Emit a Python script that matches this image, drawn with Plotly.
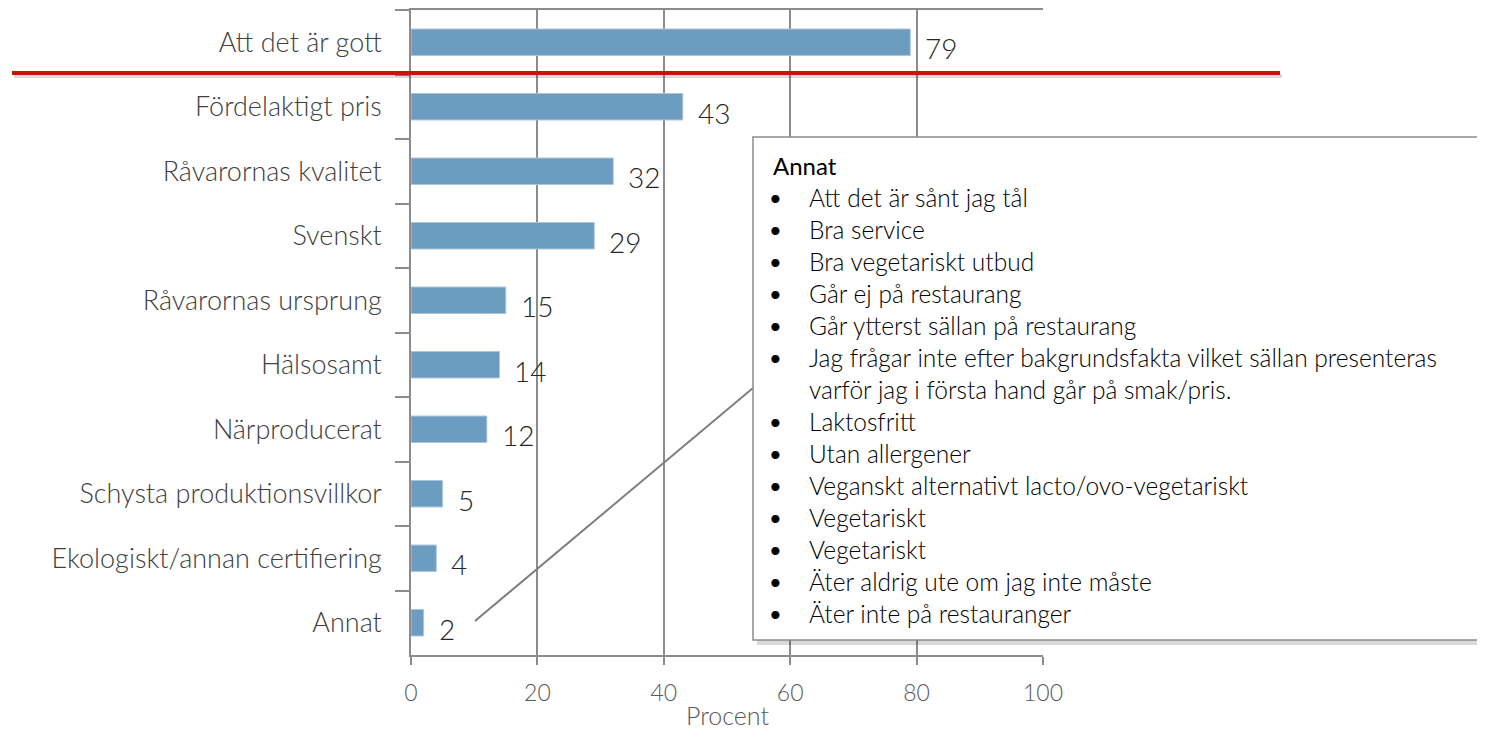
import plotly.graph_objects as go

categories = ["Att det är gott", "Fördelaktigt pris", "Råvarornas kvalitet", "Svenskt",
              "Råvarornas ursprung", "Hälsosamt", "Närproducerat",
              "Schysta produktionsvillkor", "Ekologiskt/annan certifiering", "Annat"]
values = [79, 43, 32, 29, 15, 14, 12, 5, 4, 2]
x_ticks = [0, 20, 40, 60, 80, 100]
x_title = "Procent"
callout_title = "Annat"
callout_items = [
    "Att det är sånt jag tål",
    "Bra service",
    "Bra vegetariskt utbud",
    "Går ej på restaurang",
    "Går ytterst sällan på restaurang",
    "Jag frågar inte efter bakgrundsfakta vilket sällan presenteras\nvarför jag i första hand går på smak/pris.",
    "Laktosfritt",
    "Utan allergener",
    "Veganskt alternativt lacto/ovo-vegetariskt",
    "Vegetariskt",
    "Vegetariskt",
    "Äter aldrig ute om jag inte måste",
    "Äter inte på restauranger",
]

# page body has an 8px margin, so the figure is drawn 8px in from the window edge
W, H = 1469, 722
FONT = "Lato"
fig = go.Figure()
fig.add_trace(go.Bar(
    x=values, y=categories, orientation="h", width=0.41,
    marker=dict(color="#6C9CC0", line=dict(color="#A9C6DC", width=1)),
    hoverinfo="skip",
))

for c, v in zip(categories, values):
    fig.add_annotation(x=v, y=c, text=str(v), showarrow=False, xanchor="left",
                       xshift=13, yshift=-6,
                       font=dict(family=FONT, size=28, color="#262626", weight=300))

# convert reference-window pixel positions to paper coordinates of the plot area
def px(xp):
    return (xp - 411) / 632

def py(yp):
    return (655 - yp) / 645

shapes = []
# red line with shadow
shapes.append(dict(type="line", xref="paper", yref="paper", x0=px(14), x1=px(1282),
                   y0=py(76), y1=py(76), line=dict(color="rgba(0,0,0,0.15)", width=4)))
shapes.append(dict(type="line", xref="paper", yref="paper", x0=px(12), x1=px(1280),
                   y0=py(73), y1=py(73), line=dict(color="#C0180C", width=4)))
# connector
shapes.append(dict(type="line", xref="paper", yref="paper", x0=px(475), y0=py(621),
                   x1=px(753), y1=py(388), line=dict(color="#7F7F7F", width=2)))
# callout shadow + box
shapes.append(dict(type="rect", xref="paper", yref="paper", x0=px(757), x1=px(1489),
                   y0=py(645), y1=py(141), line=dict(width=0), fillcolor="rgba(0,0,0,0.15)"))
shapes.append(dict(type="rect", xref="paper", yref="paper", x0=px(753), x1=px(1484),
                   y0=py(640), y1=py(137), line=dict(color="#8C8C8C", width=1.5),
                   fillcolor="white"))
fig.update_layout(shapes=shapes)

fig.add_annotation(xref="paper", yref="paper", x=px(771), y=py(165), text=callout_title,
                   showarrow=False, xanchor="left", yanchor="middle",
                   font=dict(family=FONT, size=24, color="#000000"))
line_y = 197
for item in callout_items:
    parts = item.split("\n")
    fig.add_annotation(xref="paper", yref="paper", x=px(767), y=py(line_y), text="•",
                       showarrow=False, xanchor="left", yanchor="middle",
                       font=dict(family=FONT, size=22, color="#000000"))
    for p in parts:
        fig.add_annotation(xref="paper", yref="paper", x=px(807), y=py(line_y), text=p,
                           showarrow=False, xanchor="left", yanchor="middle",
                           font=dict(family=FONT, size=24.5, color="#000000", weight=300))
        line_y += 32

# x-axis title as annotation, kept inside the figure's bottom edge
fig.add_annotation(xref="paper", yref="paper", x=0.5, y=py(715), text=x_title,
                   showarrow=False, xanchor="center", yanchor="middle",
                   font=dict(family=FONT, size=25, color="#595959", weight=300))

fig.update_xaxes(range=[0, 100], tickvals=x_ticks, showgrid=True, gridcolor="#8C8C8C",
                 gridwidth=1.5, showline=True, linecolor="#8C8C8C", linewidth=1.5,
                 mirror=True, ticks="outside", ticklen=8, tickcolor="#8C8C8C", tickwidth=1.5,
                 ticklabelstandoff=9, zeroline=False, automargin=False,
                 tickfont=dict(family=FONT, size=23, color="#595959", weight=300))
fig.update_yaxes(autorange="reversed", showline=True, linecolor="#8C8C8C", linewidth=1.5,
                 ticks="outside", tickson="boundaries", ticklen=14, tickcolor="#8C8C8C",
                 tickwidth=1.5, ticklabelstandoff=22, showgrid=False, automargin=False,
                 tickfont=dict(family=FONT, size=27, color="#404040", weight=300))

fig.update_layout(width=W, height=H, margin=dict(l=403, r=434, t=2, b=75),
                  plot_bgcolor="white", paper_bgcolor="white", showlegend=False,
                  bargap=0.59)
fig.write_html("out.html")
